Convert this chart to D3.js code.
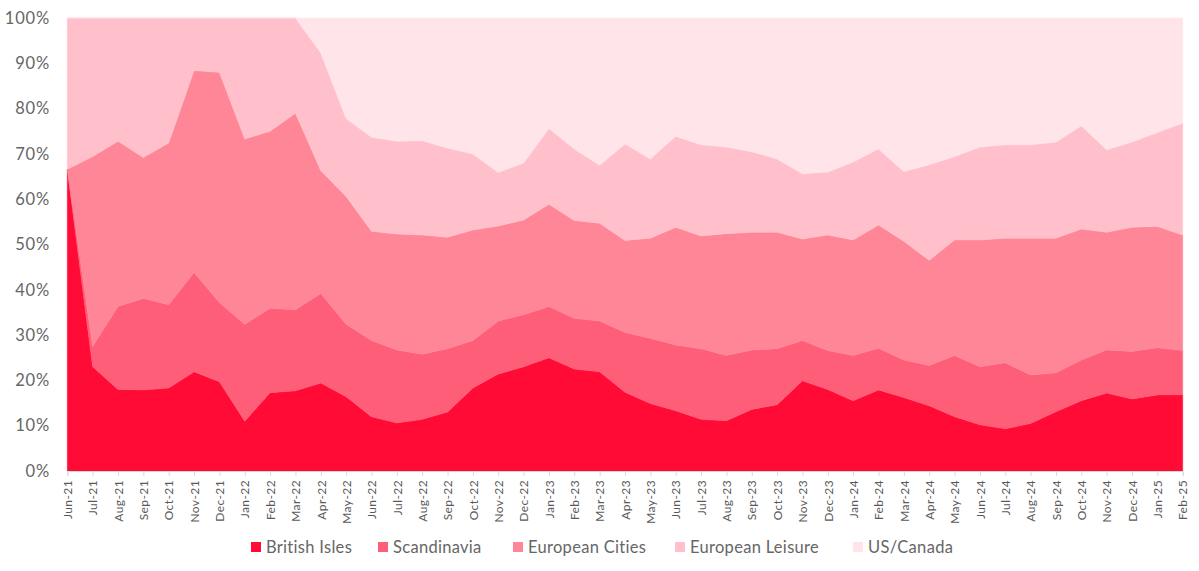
<!DOCTYPE html>
<html>
<head>
<meta charset="utf-8">
<script src="https://cdn.jsdelivr.net/npm/d3@7"></script>
<style>
  html, body { margin: 0; padding: 0; background: #fff; }
  svg { display: block; font-family: Lato, "Open Sans", sans-serif; }
</style>
</head>
<body>
<svg id="chart" width="1199" height="571"></svg>
<script>
const months = ["Jun-21","Jul-21","Aug-21","Sep-21","Oct-21","Nov-21","Dec-21","Jan-22","Feb-22","Mar-22","Apr-22","May-22","Jun-22","Jul-22","Aug-22","Sep-22","Oct-22","Nov-22","Dec-22","Jan-23","Feb-23","Mar-23","Apr-23","May-23","Jun-23","Jul-23","Aug-23","Sep-23","Oct-23","Nov-23","Dec-23","Jan-24","Feb-24","Mar-24","Apr-24","May-24","Jun-24","Jul-24","Aug-24","Sep-24","Oct-24","Nov-24","Dec-24","Jan-25","Feb-25"];
const seriesNames = ["British Isles","Scandinavia","European Cities","European Leisure","US/Canada"];

const britishIsles = [66.6,23.0,18.0,17.9,18.3,21.9,19.7,11.0,17.3,17.7,19.4,16.4,12.0,10.6,11.4,13.0,18.3,21.4,23.0,25.0,22.5,21.9,17.4,14.9,13.3,11.4,11.1,13.6,14.6,19.9,18.0,15.5,17.9,16.2,14.4,12.0,10.2,9.3,10.5,13.1,15.5,17.2,15.9,16.8,16.8];
const scandinavia = [0,4.5,18.3,20.2,18.4,21.9,17.5,21.4,18.6,17.9,19.8,16.0,16.8,16.1,14.4,14.0,10.5,11.7,11.5,11.3,11.2,11.2,13.2,14.4,14.5,15.6,14.4,13.1,12.4,8.9,8.6,10.0,9.2,8.3,8.9,13.5,12.8,14.6,10.7,8.6,9.0,9.5,10.5,10.4,9.8];
const europeanCities = [0,41.9,36.5,31.1,35.7,44.6,50.8,40.9,39.1,43.4,27.1,28.2,24.1,25.6,26.3,24.6,24.4,21.0,20.9,22.6,21.6,21.6,20.3,22.1,26.0,24.9,26.9,26.0,25.7,22.4,25.5,25.5,27.2,26.2,23.2,25.5,28.0,27.5,30.2,29.7,28.9,26.0,27.4,26.8,25.5];
const europeanLeisure = [33.4,30.6,27.2,30.8,27.6,11.6,12.0,26.7,25.0,21.0,26.0,17.2,20.8,20.5,20.8,19.7,16.8,11.8,12.6,16.7,15.8,12.8,21.3,17.5,20.1,20.1,19.1,17.8,16.2,14.4,13.9,17.2,16.8,15.4,21.1,18.4,20.5,20.6,20.6,21.2,22.8,18.2,18.8,20.7,24.7];
const usCanada = [0,0,0,0,0,0,0,0,0,0,7.7,22.2,26.3,27.2,27.1,28.7,30.0,34.1,32.0,24.4,28.9,32.5,27.8,31.1,26.1,28.0,28.5,29.5,31.1,34.4,34.0,31.8,28.9,33.9,32.4,30.6,28.5,28.0,28.0,27.4,23.8,29.1,27.4,25.3,23.2];
const yTicks = [0,10,20,30,40,50,60,70,80,90,100];

const colors = ["#FF0B35","#FF5E78","#FF8697","#FFC0CB","#FFE5E9"];
const valueArrays = [britishIsles, scandinavia, europeanCities, europeanLeisure, usCanada];

const table = months.map((m, i) => {
  const row = { month: m };
  const total = d3.sum(valueArrays, a => a[i]);
  seriesNames.forEach((s, k) => { row[s] = valueArrays[k][i] / total; });
  return row;
});

const svg = d3.select("#chart");
const plotLeft = 67.3, plotRight = 1182.7, plotTop = 18, plotBottom = 471;

const x = d3.scalePoint().domain(months).range([plotLeft, plotRight]);
const y = d3.scaleLinear().domain([0, 1]).range([plotBottom, plotTop]);

const stack = d3.stack().keys(seriesNames);
const layers = stack(table);

const area = d3.area()
  .x(d => x(d.data.month))
  .y0(d => y(d[0]))
  .y1(d => y(d[1]))
  .curve(d3.curveLinear);

svg.append("g").selectAll("path")
  .data(layers)
  .join("path")
  .attr("d", area)
  .attr("fill", (d, i) => colors[i])
  .attr("stroke", (d, i) => colors[i])
  .attr("stroke-width", 0.5);

// Y axis labels
const yAxis = d3.axisLeft(y)
  .tickValues(yTicks.map(v => v / 100))
  .tickFormat(d => Math.round(d * 100) + "%")
  .tickSize(0)
  .tickPadding(0);
const gy = svg.append("g").attr("transform", "translate(50,0)").call(yAxis);
gy.select(".domain").remove();
gy.selectAll("text")
  .attr("fill", "#666666")
  .style("font-size", "16.5px")
  .style("letter-spacing", "0.8px")
  .style("font-family", "Lato, 'Open Sans', sans-serif");

// X axis
const xAxis = d3.axisBottom(x).tickSizeOuter(0).tickSize(5).tickPadding(4);
const gx = svg.append("g").attr("transform", `translate(0,${plotBottom})`).call(xAxis);
gx.select(".domain").attr("stroke", "#d9d9d9");
gx.selectAll(".tick line").attr("stroke", "#d9d9d9");
gx.selectAll("text")
  .attr("fill", "#595959")
  .style("font-size", "12px")
  .style("letter-spacing", "0.4px")
  .style("font-family", "Lato, 'Open Sans', sans-serif")
  .attr("transform", "rotate(-90)")
  .attr("text-anchor", "end")
  .attr("dy", "0.35em")
  .attr("x", -9)
  .attr("y", 0);

// Legend
const legendX = [251, 378, 513, 675, 853];
const lg = svg.append("g");
seriesNames.forEach((s, i) => {
  const g = lg.append("g").attr("transform", `translate(${legendX[i]},542)`);
  g.append("rect").attr("width", 10).attr("height", 10).attr("fill", colors[i]);
  g.append("text").attr("x", 15).attr("y", 10.5)
    .attr("fill", "#666666")
    .style("font-size", "16.5px")
    .style("letter-spacing", "0.3px")
    .style("font-family", "Lato, 'Open Sans', sans-serif")
    .text(s);
});
</script>
</body>
</html>
